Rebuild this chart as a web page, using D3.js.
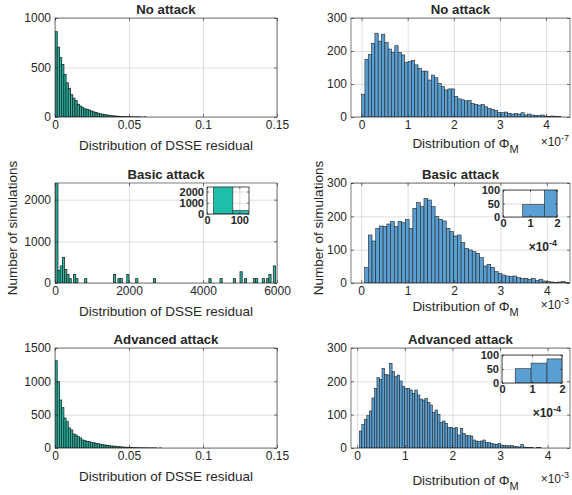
<!DOCTYPE html>
<html>
<head>
<meta charset="utf-8">
<script src="https://cdn.jsdelivr.net/npm/d3@7/dist/d3.min.js"></script>
<style>
  body { margin: 0; background: #fff; }
  svg text { font-family: "Liberation Sans", Arial, Helvetica, sans-serif; fill: #262626; }
</style>
</head>
<body>
<svg id="fig" width="572" height="495"></svg>
<script>
// ---- histogram counts ----
// DSSE residual, no attack (bins of 0.0015 starting at 0)
const noAttackResidual = [862, 705, 600, 530, 430, 345, 290, 225, 190, 165, 128, 110, 95, 82, 78, 70, 60, 52, 46, 38,
  32, 28, 24, 20, 17, 13, 11, 9, 7, 5, 4, 3, 3, 2, 2, 1, 1, 1, 1, 0, 1, 0, 0, 0];
// DSSE residual, basic attack (bins of 60 starting at 20)
const basicResidual = [2450, 300, 410, 610, 325, 205, 105, 0, 205, 105,
  0, 0, 0, 105, 0, 0, 0, 0, 0, 0,
  0, 0, 0, 0, 0, 0, 205, 0, 105, 105,
  0, 0, 205, 0, 0, 0, 105, 0, 0, 0,
  0, 0, 0, 0, 105, 0, 0, 0, 0, 0,
  0, 0, 0, 0, 0, 0, 0, 0, 0, 0,
  0, 0, 0, 0, 0, 0, 0, 0, 0, 105,
  0, 0, 0, 0, 105, 0, 0, 0, 0, 0,
  105, 0, 0, 270, 0, 105, 0, 0, 0, 105,
  105, 0, 0, 105, 0, 105, 205, 0, 410];
// DSSE residual, advanced attack (bins of 0.0015 starting at 0)
const advancedResidual = [1310, 995, 720, 605, 450, 395, 300, 270, 210, 195, 170, 150, 120, 110, 100, 95, 85, 80, 70, 65,
  55, 50, 45, 40, 35, 30, 28, 25, 20, 18, 15, 12, 10, 10, 8, 6, 5, 4, 3, 3, 2, 2, 1, 1, 1, 1, 0, 1, 0, 0];
// Phi_M, no attack (x1e-7, bins of 0.072 starting at 0)
const noAttackPhi = [69, 175, 190, 223, 254, 230, 251, 226, 206, 196, 216, 196, 188, 165, 168, 171, 158, 148, 139, 139,
  112, 127, 119, 102, 92, 82, 85, 85, 62, 55, 52, 49, 50, 41, 38, 36, 38, 31, 26, 23,
  20, 14, 13, 15, 11, 9, 11, 9, 13, 6, 9, 6, 5, 4, 6, 3, 2, 3, 2, 1];
// Phi_M, basic attack (x1e-3, bins of 0.08 starting at 0.073)
const basicPhi = [46, 144, 126, 164, 171, 169, 177, 184, 169, 184, 181, 191, 164, 224, 241, 229, 254, 249, 229, 199,
  191, 186, 164, 154, 141, 144, 121, 104, 99, 94, 89, 76, 51, 56, 47, 34, 29, 24, 21, 19,
  21, 16, 13, 14, 11, 14, 7, 11, 6, 4, 3, 2, 3, 4, 1];
// Phi_M, advanced attack (x1e-3, bins of 0.053 starting at 0.044)
const advancedPhi = [51, 71, 86, 97, 111, 150, 179, 211, 206, 239, 221, 219, 254, 229, 214, 219, 201, 184, 179, 179,
  174, 164, 174, 159, 147, 144, 149, 137, 129, 107, 114, 101, 77, 81, 74, 61, 61, 59, 61, 39,
  59, 44, 37, 37, 36, 24, 21, 19, 21, 24, 16, 16, 14, 12, 11, 14, 9, 7, 7, 6,
  7, 4, 4, 3, 11, 3, 2, 2, 1, 0, 1, 1];

const titles = ["No attack", "Basic attack", "Advanced attack"];
const residualTicks = [0, 0.05, 0.1, 0.15];
const basicResidualTicks = [0, 2000, 4000, 6000];
const phiTicks = [0, 1, 2, 3, 4];

const teal = "#1fbea8";
const blue = "#5a9fd3";
const edge = "#262626";
const fmt = d3.format("~g");

const svg = d3.select("#fig");
let clipCount = 0;

function styleAxis(sel, size, bold) {
  sel.select(".domain").remove();
  sel.attr("font-family", null).attr("font-size", null);
  sel.selectAll("line").attr("stroke", edge).attr("stroke-width", 0.6);
  sel.selectAll("text")
    .style("font-size", size + "px")
    .style("font-weight", bold ? "bold" : "normal");
}

function drawAxes(p) {
  const [x0, y0, x1, y1] = p.box;
  const x = d3.scaleLinear().domain(p.xDomain).range([x0, x1]);
  const y = d3.scaleLinear().domain(p.yDomain).range([y1, y0]);
  const g = svg.append("g");
  const fontSize = p.inset ? 11 : 12;
  const tickLen = p.inset ? 2 : 3;

  g.append("rect")
    .attr("x", x0).attr("y", y0)
    .attr("width", x1 - x0).attr("height", y1 - y0)
    .attr("fill", "#fff");

  // grid
  g.append("g")
    .attr("transform", `translate(0,${y1})`)
    .call(d3.axisBottom(x).tickValues(p.xTicks).tickSize(-(y1 - y0)).tickFormat(""))
    .call(a => a.select(".domain").remove())
    .selectAll("line").attr("stroke", edge).attr("stroke-opacity", 0.15);
  g.append("g")
    .attr("transform", `translate(${x0},0)`)
    .call(d3.axisLeft(y).tickValues(p.yTicks).tickSize(-(x1 - x0)).tickFormat(""))
    .call(a => a.select(".domain").remove())
    .selectAll("line").attr("stroke", edge).attr("stroke-opacity", 0.15);

  // bars
  const clipId = "clip" + (clipCount++);
  g.append("clipPath").attr("id", clipId)
    .append("rect")
    .attr("x", x0).attr("y", y0)
    .attr("width", x1 - x0).attr("height", y1 - y0);

  const bins = p.counts
    .map((c, i) => ({ a: p.binStart + i * p.binWidth, b: p.binStart + (i + 1) * p.binWidth, c }))
    .filter(d => d.c > 0);

  g.append("g")
    .attr("clip-path", `url(#${clipId})`)
    .selectAll("rect")
    .data(bins)
    .join("rect")
    .attr("x", d => x(d.a * p.scaleX))
    .attr("width", d => x(d.b * p.scaleX) - x(d.a * p.scaleX))
    .attr("y", d => y(d.c))
    .attr("height", d => y1 - y(d.c))
    .attr("fill", p.color)
    .attr("stroke", edge)
    .attr("stroke-width", p.edgeWidth || 0.6);

  // ticks and labels
  g.append("g")
    .attr("transform", `translate(0,${y1})`)
    .call(d3.axisBottom(x).tickValues(p.xTicks).tickSize(-tickLen).tickPadding(p.inset ? 2 : 3).tickFormat(fmt))
    .call(a => styleAxis(a, fontSize, p.inset));
  g.append("g")
    .attr("transform", `translate(0,${y0})`)
    .call(d3.axisTop(x).tickValues(p.xTicks).tickSize(-tickLen).tickFormat(""))
    .call(a => styleAxis(a, fontSize, p.inset));
  g.append("g")
    .attr("transform", `translate(${x0},0)`)
    .call(d3.axisLeft(y).tickValues(p.yTicks).tickSize(-tickLen).tickPadding(p.inset ? 3 : 4).tickFormat(fmt))
    .call(a => styleAxis(a, fontSize, p.inset));
  g.append("g")
    .attr("transform", `translate(${x1},0)`)
    .call(d3.axisRight(y).tickValues(p.yTicks).tickSize(-tickLen).tickFormat(""))
    .call(a => styleAxis(a, fontSize, p.inset));

  g.append("rect")
    .attr("x", x0).attr("y", y0)
    .attr("width", x1 - x0).attr("height", y1 - y0)
    .attr("fill", "none")
    .attr("stroke", edge)
    .attr("stroke-width", p.inset ? 0.8 : 0.6);

  if (p.title) {
    g.append("text")
      .attr("x", (x0 + x1) / 2).attr("y", y0 - 4)
      .attr("text-anchor", "middle")
      .style("font-size", "13.2px").style("font-weight", "bold")
      .text(p.title);
  }

  if (p.xLabel === "residual") {
    g.append("text")
      .attr("x", (x0 + x1) / 2).attr("y", y1 + p.labelDy)
      .attr("text-anchor", "middle")
      .style("font-size", "13.5px")
      .text("Distribution of DSSE residual");
  } else if (p.xLabel === "phi") {
    const t = g.append("text")
      .attr("x", (x0 + x1) / 2 + 5).attr("y", y1 + p.labelDy)
      .attr("text-anchor", "middle")
      .style("font-size", "13.5px");
    t.append("tspan").text("Distribution of \u03A6");
    t.append("tspan").attr("dy", 5).style("font-size", "11px").text("M");
  }

  if (p.exponent) {
    const e = g.append("text")
      .attr("x", p.exponent.x).attr("y", p.exponent.y)
      .attr("text-anchor", "end")
      .style("font-size", "12px")
      .style("font-weight", p.inset ? "bold" : "normal");
    e.append("tspan").text("\u00D710");
    e.append("tspan").attr("dy", -5).style("font-size", "9px").text(p.exponent.power);
  }

  if (p.yLabel) {
    g.append("text")
      .attr("transform", `translate(${p.yLabel.x},${(y0 + y1) / 2 - 5}) rotate(-90)`)
      .attr("text-anchor", "middle")
      .attr("dy", "0.35em")
      .style("font-size", "13.5px")
      .text("Number of simulations");
  }
}

const panels = [
  { title: titles[0], counts: noAttackResidual, binStart: 0, binWidth: 0.0015, scaleX: 1, color: teal, edgeWidth: 0.85,
    box: [55, 18, 277, 117], xDomain: [0, 0.15], xTicks: residualTicks, yDomain: [0, 1000], yTicks: [0, 500, 1000],
    xLabel: "residual", labelDy: 33 },
  { title: titles[0], counts: noAttackPhi, binStart: 0, binWidth: 0.072, scaleX: 1, color: blue,
    box: [351, 18, 570, 117], xDomain: [-0.23, 4.52], xTicks: phiTicks, yDomain: [0, 300], yTicks: [0, 100, 200, 300],
    xLabel: "phi", labelDy: 30.5, exponent: { x: 569, y: 146, power: "-7" } },
  { title: titles[1], counts: basicResidual, binStart: 20, binWidth: 60, scaleX: 1, color: teal, edgeWidth: 0.8,
    box: [55, 183, 277, 283], xDomain: [0, 6000], xTicks: basicResidualTicks, yDomain: [0, 2400], yTicks: [0, 1000, 2000],
    xLabel: "residual", labelDy: 33, yLabel: { x: 12 } },
  { title: titles[1], counts: basicPhi, binStart: 0.073, binWidth: 0.08, scaleX: 1, color: blue,
    box: [351, 183, 570, 283], xDomain: [-0.22, 4.5], xTicks: phiTicks, yDomain: [0, 300], yTicks: [0, 100, 200, 300],
    xLabel: "phi", labelDy: 28, exponent: { x: 569, y: 309, power: "-3" }, yLabel: { x: 318 } },
  { title: titles[2], counts: advancedResidual, binStart: 0, binWidth: 0.0015, scaleX: 1, color: teal, edgeWidth: 0.8,
    box: [55, 348, 277, 448], xDomain: [0, 0.15], xTicks: residualTicks, yDomain: [0, 1500], yTicks: [0, 500, 1000, 1500],
    xLabel: "residual", labelDy: 32.6 },
  { title: titles[2], counts: advancedPhi, binStart: 0.044, binWidth: 0.053, scaleX: 1, color: blue,
    box: [351, 348, 570, 448], xDomain: [-0.13, 4.47], xTicks: phiTicks, yDomain: [0, 300], yTicks: [0, 100, 200, 300],
    xLabel: "phi", labelDy: 36.5, exponent: { x: 569, y: 483, power: "-3" } },
  // insets: the first bins of the same histograms, magnified
  { inset: true, counts: basicResidual, binStart: 20, binWidth: 60, scaleX: 1, color: teal,
    box: [207, 187, 249, 214], xDomain: [0, 130], xTicks: [0, 100], yDomain: [0, 2400], yTicks: [0, 1000, 2000] },
  { inset: true, counts: basicPhi, binStart: 0.073, binWidth: 0.08, scaleX: 10, color: blue,
    box: [503, 190, 557, 217], xDomain: [0, 2], xTicks: [0, 1, 2], yDomain: [0, 100], yTicks: [0, 50, 100],
    exponent: { x: 557, y: 251, power: "-4" } },
  { inset: true, counts: advancedPhi, binStart: 0.044, binWidth: 0.053, scaleX: 10, color: blue,
    box: [502, 355, 562, 383], xDomain: [0, 2], xTicks: [0, 1, 2], yDomain: [0, 100], yTicks: [0, 50, 100],
    exponent: { x: 561, y: 417, power: "-4" } }
];

panels.forEach(drawAxes);
</script>
</body>
</html>
